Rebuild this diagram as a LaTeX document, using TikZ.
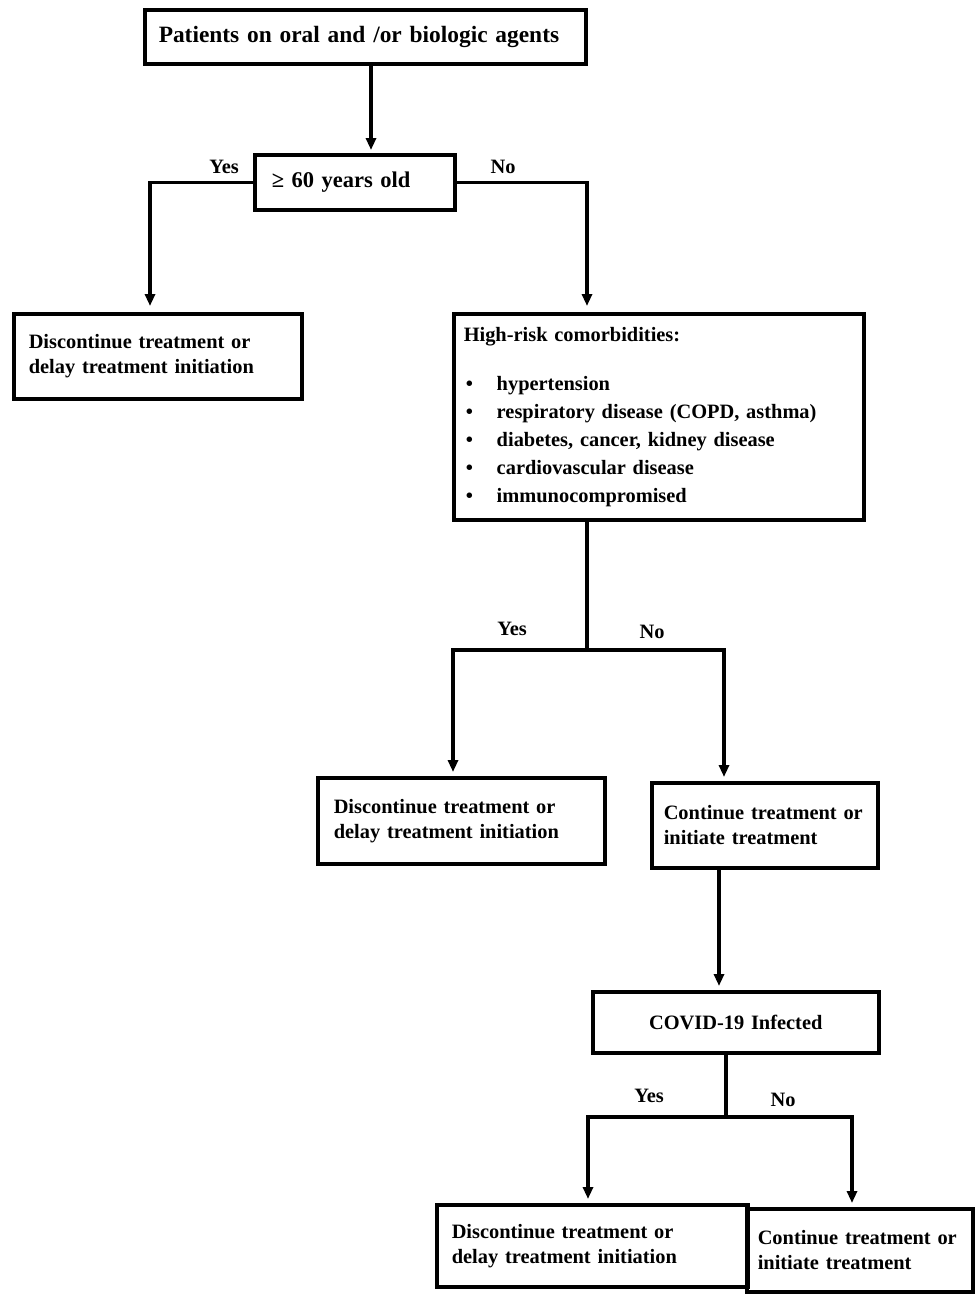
\documentclass[tikz,border=0pt]{standalone}
\usepackage{fontspec}
\setmainfont{Liberation Serif}
\usetikzlibrary{arrows.meta}
\begin{document}
\begin{tikzpicture}[x=1pt,y=-1pt,
  box/.style={draw, line width=3.5pt, anchor=north west, align=left, inner ysep=0pt,
    font=\bfseries\fontsize{20.4}{25}\selectfont},
  lbl/.style={font=\bfseries\fontsize{20.4}{24}\selectfont, inner sep=0pt},
  ln/.style={line width=3.5pt},
  arr/.style={line width=3.5pt, -{Triangle[width=10pt,length=12pt]}, shorten >=4pt}]
\useasboundingbox (0,0) rectangle (978,1296);

\node[box, inner xsep=14pt, text width=413pt, minimum height=54pt,
  font=\bfseries\fontsize{23.4}{28}\selectfont] (top) at (143,8)
  {Patients on oral and /or biologic agents};
\node[box, inner xsep=17pt, text width=166pt, minimum height=55pt,
  font=\bfseries\fontsize{22.5}{28}\selectfont] (age) at (253,153)
  {≥ 60 years old};
\node[box, inner xsep=15pt, text width=258pt, minimum height=85pt] (dl1) at (12,312)
  {Discontinue treatment or\\delay treatment initiation};
\node[box, inner xsep=10pt, text width=390pt, minimum height=206pt] (comorb) at (452,312)
  {High-risk comorbidities:\\[24pt]
   \hspace*{2pt}\makebox[31pt][l]{•}hypertension\\[3pt]
   \hspace*{2pt}\makebox[31pt][l]{•}respiratory disease (COPD, asthma)\\[3pt]
   \hspace*{2pt}\makebox[31pt][l]{•}diabetes, cancer, kidney disease\\[3pt]
   \hspace*{2pt}\makebox[31pt][l]{•}cardiovascular disease\\[3pt]
   \hspace*{2pt}\makebox[31pt][l]{•}immunocompromised};
\node[box, inner xsep=16pt, text width=255pt, minimum height=86pt] (dc2) at (316,776)
  {Discontinue treatment or\\delay treatment initiation};
\node[box, inner xsep=12pt, text width=202pt, minimum height=85pt] (cont1) at (650,781)
  {Continue treatment or\\initiate treatment};
\node[box, inner xsep=10pt, text width=266pt, minimum height=61pt, align=center] (covid) at (591,990)
  {COVID-19 Infected};
\node[box, inner xsep=15pt, text width=281pt, minimum height=82pt] (dc3) at (435,1203)
  {Discontinue treatment or\\delay treatment initiation};
\node[box, inner xsep=11pt, text width=204pt, minimum height=83pt] (cont2) at (745,1207)
  {Continue treatment or\\initiate treatment};

\coordinate (x1) at (371,0);
\coordinate (x2) at (150,0);
\coordinate (x3) at (587,0);
\coordinate (j1) at (587,650);
\coordinate (x4) at (453,0);
\coordinate (x5) at (724,0);
\coordinate (x6) at (719,0);
\coordinate (j2) at (726,1117);
\coordinate (x7) at (588,0);
\coordinate (x8) at (852,0);

\draw[arr, shorten >=3pt] (top.south -| x1) -- (age.north -| x1);
\draw[arr, shorten >=6pt] (age.west) -| (dl1.north -| x2);
\draw[arr, shorten >=6pt] (age.east) -| (comorb.north -| x3);
\draw[ln] (comorb.south -| x3) -- (j1);
\draw[arr] (j1) -| (dc2.north -| x4);
\draw[arr] (j1) -| (cont1.north -| x5);
\draw[arr] (cont1.south -| x6) -- (covid.north -| x6);
\draw[ln] (covid.south -| j2) -- (j2);
\draw[arr] (j2) -| (dc3.north -| x7);
\draw[arr] (j2) -| (cont2.north -| x8);

\node[lbl] (yes1) at (224,167) {Yes};
\node[lbl] (no1) at (503,167) {No};
\node[lbl] (yes2) at (512,629) {Yes};
\node[lbl] (no2) at (652,632) {No};
\node[lbl] (yes3) at (649,1096) {Yes};
\node[lbl] (no3) at (783,1100) {No};
\end{tikzpicture}
\end{document}
